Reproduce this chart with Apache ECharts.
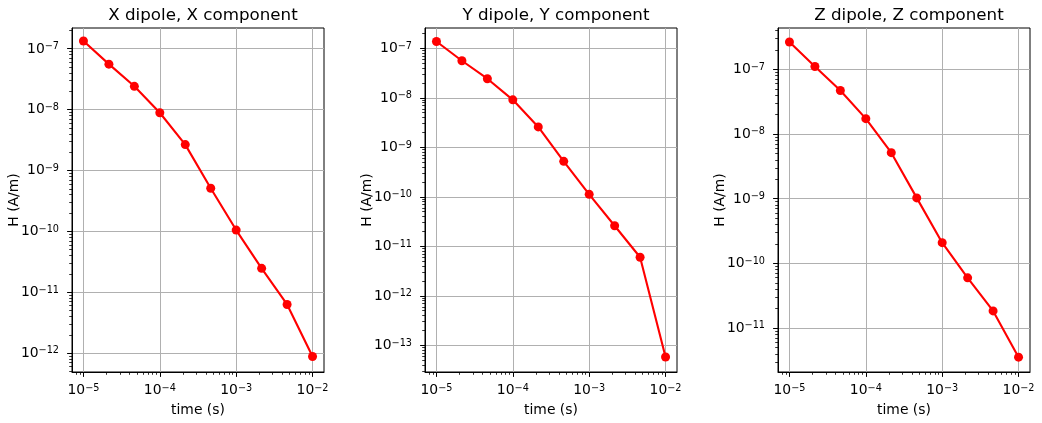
<!DOCTYPE html>
<html>
<head>
<meta charset="utf-8">
<script src="https://cdn.jsdelivr.net/npm/echarts@6/dist/echarts.min.js"></script>
<style>
html,body{margin:0;padding:0;background:#fff;}
#chart{width:1042px;height:423px;}
</style>
</head>
<body>
<div id="chart"></div>
<script>
// ---- data ----
const times = [1e-5, 2.154e-5, 4.642e-5, 1e-4, 2.154e-4, 4.642e-4, 1e-3, 2.154e-3, 4.642e-3, 1e-2];
const hXX = [1.34e-7, 5.58e-8, 2.41e-8, 8.87e-9, 2.66e-9, 5.1e-10, 1.05e-10, 2.47e-11, 6.3e-12, 8.8e-13];
const hYY = [1.37e-7, 5.6e-8, 2.43e-8, 9.1e-9, 2.58e-9, 5.2e-10, 1.12e-10, 2.6e-11, 6.0e-12, 5.8e-14];
const hZZ = [2.65e-7, 1.11e-7, 4.72e-8, 1.73e-8, 5.15e-9, 1.03e-9, 2.09e-10, 5.98e-11, 1.84e-11, 3.54e-12];
const titles = ['X dipole, X component', 'Y dipole, Y component', 'Z dipole, Z component'];
const xTicks = [1e-5, 1e-4, 1e-3, 1e-2];
const yTicks1 = [1e-12, 1e-11, 1e-10, 1e-9, 1e-8, 1e-7];
const yTicks2 = [1e-13, 1e-12, 1e-11, 1e-10, 1e-9, 1e-8, 1e-7];
const yTicks3 = [1e-11, 1e-10, 1e-9, 1e-8, 1e-7];
const xLimitsLog = [-5.15, -1.85];
const yLimitsLog1 = [-12.31, -6.66];
const yLimitsLog2 = [-13.54, -6.59];
const yLimitsLog3 = [-11.68, -6.36];
const xName = 'time (s)';
const yName = 'H (A/m)';

// ---- chart ----
const FONT = 'DejaVu Sans';
const series = [hXX, hYY, hZZ];
const yTickSets = [yTicks1, yTicks2, yTicks3];
const yLims = [yLimitsLog1, yLimitsLog2, yLimitsLog3];
const gridLefts = [72, 425, 778];
const gridW = 252;

function minorOf(decades) {
  const lo = Math.min(...decades) / 10, hi = Math.max(...decades) * 10;
  const out = [];
  for (let d = lo; d < hi * 1.01; d *= 10) {
    for (let k = 2; k <= 9; k++) out.push(+(k * d).toPrecision(3));
  }
  return out;
}
function fmt(v) {
  const e = Math.round(Math.log10(v));
  return '{b|10}{s|' + (e < 0 ? '\u2212' : '') + Math.abs(e) + '}';
}
const rich = {
  b: {fontSize: 13.9, fontFamily: FONT, color: '#000', verticalAlign: 'bottom'},
  s: {fontSize: 9.7, fontFamily: FONT, color: '#000', verticalAlign: 'bottom', padding: [0, 0, 4.5, 0]}
};

const grid = [], xAxis = [], yAxis = [], title = [], ser = [];
for (let i = 0; i < 3; i++) {
  grid.push({left: gridLefts[i], top: 28, width: gridW, height: 344, show: true,
    borderColor: '#000', borderWidth: 1, backgroundColor: 'transparent'});
  title.push({text: titles[i], left: gridLefts[i] + gridW / 2, textAlign: 'center', top: 2,
    textStyle: {fontFamily: FONT, fontSize: 16.7, fontWeight: 'normal', color: '#000'}});
  const xmin = Math.pow(10, xLimitsLog[0]), xmax = Math.pow(10, xLimitsLog[1]);
  const ymin = Math.pow(10, yLims[i][0]), ymax = Math.pow(10, yLims[i][1]);
  xAxis.push({type: 'log', gridIndex: i, position: 'bottom', min: xmin, max: xmax,
    name: xName, nameLocation: 'middle', nameGap: 31, nameMoveOverlap: false,
    nameTextStyle: {fontFamily: FONT, fontSize: 13.9, color: '#000'},
    axisLine: {show: true, lineStyle: {color: '#000', width: 1}},
    axisTick: {show: true, customValues: xTicks, length: 4.9, lineStyle: {color: '#000', width: 1}},
    axisLabel: {show: true, customValues: xTicks, formatter: fmt, rich: rich, margin: 11},
    splitLine: {show: true, lineStyle: {color: '#b0b0b0', width: 1}},
    minorTick: {show: false}, minorSplitLine: {show: false}});
  xAxis.push({type: 'log', gridIndex: i, position: 'bottom', min: xmin, max: xmax,
    axisLine: {show: false},
    axisTick: {show: true, customValues: minorOf(xTicks), length: 2.8, lineStyle: {color: '#000', width: 0.8}},
    axisLabel: {show: false}, splitLine: {show: false}});
  yAxis.push({type: 'log', gridIndex: i, position: 'left', min: ymin, max: ymax,
    name: yName, nameLocation: 'middle', nameGap: 51, nameMoveOverlap: false,
    nameTextStyle: {fontFamily: FONT, fontSize: 13.9, color: '#000'},
    axisLine: {show: true, lineStyle: {color: '#000', width: 1}},
    axisTick: {show: true, customValues: yTickSets[i], length: 4.9, lineStyle: {color: '#000', width: 1}},
    axisLabel: {show: true, customValues: yTickSets[i], formatter: fmt, rich: rich, margin: 13},
    splitLine: {show: true, lineStyle: {color: '#b0b0b0', width: 1}}});
  yAxis.push({type: 'log', gridIndex: i, position: 'left', min: ymin, max: ymax,
    axisLine: {show: false},
    axisTick: {show: true, customValues: minorOf(yTickSets[i]), length: 2.8, lineStyle: {color: '#000', width: 0.8}},
    axisLabel: {show: false}, splitLine: {show: false}});
  ser.push({type: 'line', xAxisIndex: 2 * i, yAxisIndex: 2 * i,
    data: times.map((t, j) => [t, series[i][j]]),
    symbol: 'circle', symbolSize: 9, showSymbol: true,
    itemStyle: {color: '#ff0000'}, lineStyle: {color: '#ff0000', width: 2.1}, z: 5});
}

const chart = echarts.init(document.getElementById('chart'), null, {renderer: 'canvas'});
chart.setOption({animation: false, backgroundColor: '#fff', title, grid, xAxis, yAxis, series: ser});
</script>
</body>
</html>
